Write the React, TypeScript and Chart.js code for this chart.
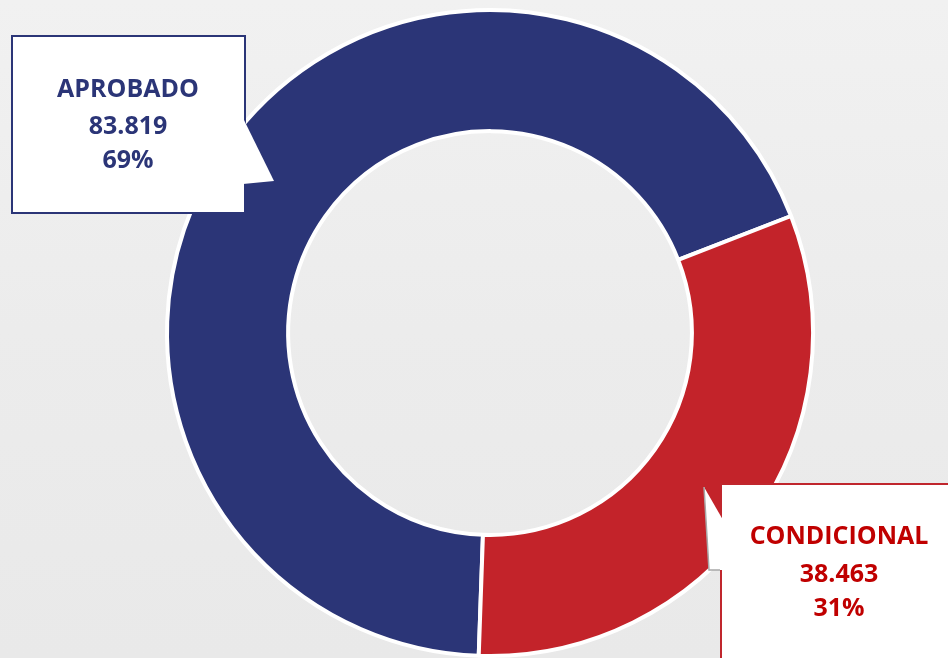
import React, { useEffect, useRef } from "react";
import { Chart, registerables } from "chart.js";

Chart.register(...registerables);

const categories = ["APROBADO", "CONDICIONAL"];
const values = [83819, 38463];
const valueLabels = ["83.819", "38.463"];
const percentLabels = ["69%", "31%"];
const sliceColors = ["#2b3577", "#c3232a"];
const textColors = ["#2b3577", "#c00000"];
const boxBorders = ["#2b3577", "#c0262d"];

const FONT = "bold 25px 'Open Sans', 'Liberation Sans', sans-serif";

const calloutPlugin = {
  id: "callouts",
  afterDraw(chart: any) {
    const ctx = chart.ctx as CanvasRenderingContext2D;
    ctx.save();

    // Left callout (APROBADO)
    ctx.fillStyle = "#ffffff";
    ctx.strokeStyle = boxBorders[0];
    ctx.lineWidth = 2;
    ctx.fillRect(12, 36, 233, 177);
    ctx.strokeRect(12, 36, 233, 177);
    ctx.beginPath();
    ctx.moveTo(243, 118);
    ctx.lineTo(274, 181);
    ctx.lineTo(243, 184);
    ctx.closePath();
    ctx.fillStyle = "#ffffff";
    ctx.fill();

    // Right callout (CONDICIONAL)
    ctx.fillStyle = "#ffffff";
    ctx.strokeStyle = boxBorders[1];
    ctx.fillRect(721, 484, 320, 300);
    ctx.strokeRect(721, 484, 320, 300);
    ctx.beginPath();
    ctx.moveTo(704, 487);
    ctx.lineTo(723, 520);
    ctx.lineTo(723, 570);
    ctx.lineTo(709, 570);
    ctx.closePath();
    ctx.fillStyle = "#ffffff";
    ctx.fill();
    ctx.beginPath();
    ctx.moveTo(704, 487);
    ctx.lineTo(709, 570);
    ctx.lineTo(720, 570);
    ctx.strokeStyle = "#a8a8a8";
    ctx.lineWidth = 1.5;
    ctx.stroke();

    ctx.font = FONT;
    ctx.textAlign = "center";
    ctx.textBaseline = "middle";
    const blocks = [
      { x: 128, ys: [90, 127, 161] },
      { x: 839, ys: [537, 575, 609] },
    ];
    blocks.forEach((b, i) => {
      ctx.fillStyle = textColors[i];
      ctx.fillText(categories[i], b.x, b.ys[0]);
      ctx.fillText(valueLabels[i], b.x, b.ys[1]);
      ctx.fillText(percentLabels[i], b.x, b.ys[2]);
    });
    ctx.restore();
  },
};

export default function App() {
  const ref = useRef<HTMLCanvasElement | null>(null);

  useEffect(() => {
    if (!ref.current) return;
    const chart = new Chart(ref.current, {
      type: "doughnut",
      data: {
        labels: categories,
        datasets: [
          {
            data: values,
            backgroundColor: sliceColors,
            borderColor: "#ffffff",
            borderWidth: 4,
          },
        ],
      },
      options: {
        responsive: false,
        maintainAspectRatio: false,
        animation: false,
        cutout: "62.5%",
        rotation: 182,
        layout: { padding: { left: 163, right: 131, top: 8, bottom: 12 } },
        plugins: {
          legend: { display: false },
          tooltip: { enabled: false },
        },
      },
      plugins: [calloutPlugin],
    } as any);
    return () => chart.destroy();
  }, []);

  return (
    <div
      style={{
        position: "fixed",
        left: 0,
        top: 0,
        width: 948,
        height: 658,
        overflow: "hidden",
        background:
          "linear-gradient(180deg, #f1f1f1 0%, #ececec 50%, #e9e9e9 100%)",
      }}
    >
      <canvas
        ref={ref}
        width={948}
        height={670}
        style={{ width: 948, height: 670, display: "block" }}
      />
    </div>
  );
}
